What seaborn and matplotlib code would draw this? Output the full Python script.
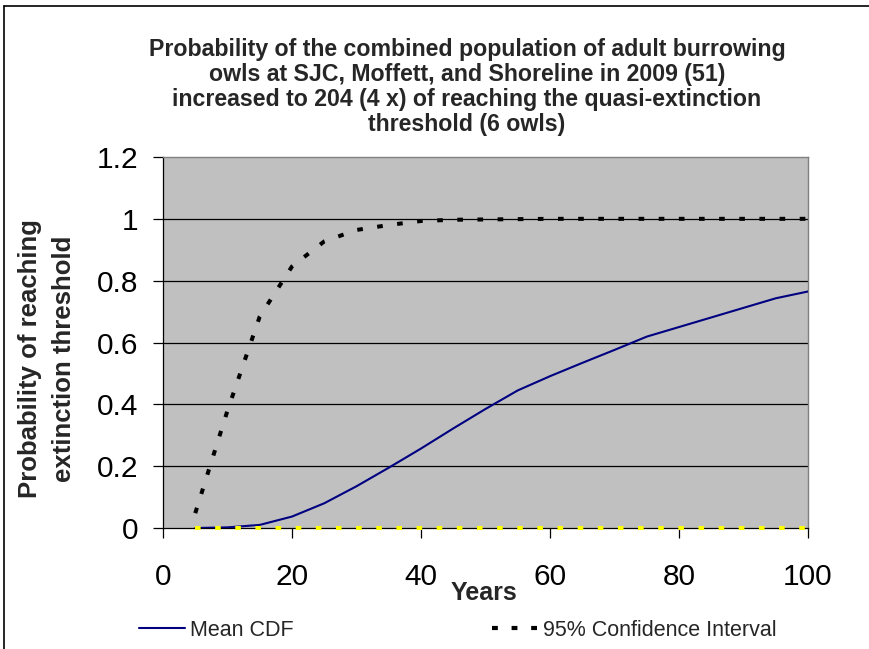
import matplotlib
matplotlib.use("Agg")
import matplotlib.pyplot as plt
from matplotlib.lines import Line2D
import seaborn as sns

# data
years = [5, 10, 15, 20, 25, 30, 35, 40, 45, 50, 55, 60, 65, 70, 75, 80, 85, 90, 95, 100]
mean_cdf = [0.0, 0.002, 0.01, 0.037, 0.08, 0.135, 0.195, 0.257, 0.322, 0.385,
            0.445, 0.491, 0.534, 0.576, 0.619, 0.65, 0.681, 0.712, 0.743, 0.765]
upper_ci = [0.048, 0.38, 0.684, 0.846, 0.927, 0.964, 0.98, 0.993, 0.997, 0.998,
            0.999, 1.0, 1.0, 1.0, 1.0, 1.0, 1.0, 1.0, 1.0, 1.0]
lower_ci = [0.0, 0.0, 0.0, 0.0, 0.0, 0.0, 0.0, 0.0, 0.0, 0.0,
            0.0, 0.0, 0.0, 0.0, 0.0, 0.0, 0.0, 0.0, 0.0, 0.0]
x_ticks = [0, 20, 40, 60, 80, 100]
y_ticks = [0, 0.2, 0.4, 0.6, 0.8, 1, 1.2]
y_tick_labels = ["0", "0.2", "0.4", "0.6", "0.8", "1", "1.2"]

sns.set_style("white")
plt.rcParams["font.family"] = ["Liberation Sans", "DejaVu Sans"]

fig = plt.figure(figsize=(8.69, 6.49), dpi=100)
ax = fig.add_axes([163 / 869, 1 - 528 / 649, 645 / 869, 371 / 649])
ax.set_facecolor("#C0C0C0")

# grid lines
for v in y_ticks[1:-1]:
    ax.axhline(v, color="black", lw=0.9, zorder=1)

sns.lineplot(x=years, y=mean_cdf, ax=ax, color="#000080", lw=1.5, zorder=3)
sns.lineplot(x=years, y=lower_ci, ax=ax, color="#FFFF00", lw=2.9, zorder=4)
ax.lines[-1].set_linestyle((0, (1.4, 3.6)))
ax.lines[-1].set_clip_on(False)
sns.lineplot(x=years, y=upper_ci, ax=ax, color="black", lw=2.9, zorder=5)
ax.lines[-1].set_linestyle((0, (1.4, 3.6)))

ax.set_xlim(0, 100)
ax.set_ylim(0, 1.2)
ax.set_xticks(x_ticks)
ax.set_yticks(y_ticks)
ax.set_yticklabels(y_tick_labels)
ax.tick_params(axis="both", labelsize=21.5, direction="out", length=7.5, width=0.9,
               color="black", labelcolor="black", bottom=True, left=True)
ax.tick_params(axis="x", pad=18)
ax.tick_params(axis="y", pad=10)
ax.set_xlabel("")
ax.set_ylabel("")
for side in ["left", "bottom"]:
    ax.spines[side].set_color("black")
    ax.spines[side].set_linewidth(0.9)
for side in ["top", "right"]:
    ax.spines[side].set_visible(True)
    ax.spines[side].set_color("#808080")
    ax.spines[side].set_linewidth(1.0)

# title
fig.text(467 / 869, 1 - 38 / 649,
         "Probability of the combined population of adult burrowing\n"
         "owls at SJC, Moffett, and Shoreline in 2009 (51)\n"
         "increased to 204 (4 x) of reaching the quasi-extinction\n"
         "threshold (6 owls)",
         ha="center", va="top", fontsize=16.7, fontweight="bold", linespacing=1.12)

# axis labels
fig.text(47 / 869, 1 - 359 / 649, "Probability of reaching\nextinction threshold",
         rotation=90, ha="center", va="center", fontsize=18.5, fontweight="bold",
         multialignment="center", linespacing=1.55)
fig.text(484 / 869, 1 - 593 / 649, "Years", ha="center", va="center",
         fontsize=18, fontweight="bold")

# legend
handles = [Line2D([], [], color="#000080", lw=1.5),
           Line2D([], [], color="black", lw=3, linestyle=(0, (1.4, 3.3)))]
fig.legend(handles, ["Mean CDF", "95% Confidence Interval"], ncol=2,
           loc="center left", bbox_to_anchor=(139 / 869, 1 - 630 / 649),
           frameon=False, fontsize=15.5, handlelength=2.14, handletextpad=0.23,
           columnspacing=9.2, borderaxespad=0, borderpad=0)

# outer frame (left and top edges)
fig.add_artist(Line2D([4 / 869, 4 / 869], [0, 1 - 6 / 649], color="black", lw=1.2))
fig.add_artist(Line2D([4 / 869, 1], [1 - 6 / 649, 1 - 6 / 649], color="black", lw=1.2))

fig.savefig("out.png", dpi=100, facecolor="white")
